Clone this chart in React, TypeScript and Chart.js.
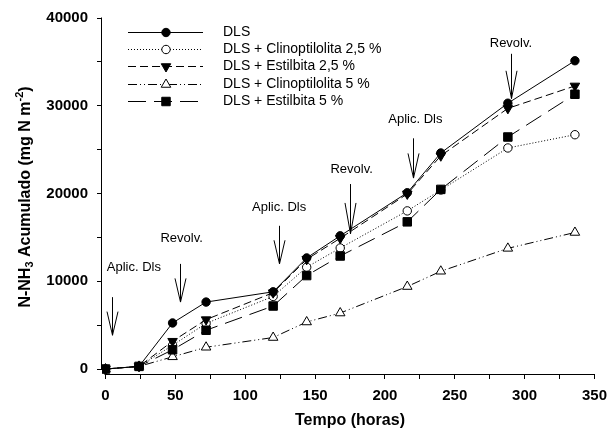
import React, { useEffect, useRef } from 'react';
import { Chart, registerables } from 'chart.js';

Chart.register(...registerables);

// ---- data ----
const hours = [0, 24, 48, 72, 120, 144, 168, 216, 240, 288, 336];

const seriesLabels = [
  'DLS',
  'DLS + Clinoptilolita 2,5 %',
  'DLS + Estilbita 2,5 %',
  'DLS + Clinoptilolita 5 %',
  'DLS + Estilbita 5 %',
];

const dls = [0, 300, 5250, 7630, 8800, 12660, 15180, 20090, 24620, 30290, 35130];
const clino25 = [0, 300, 2700, 5200, 8270, 11600, 13790, 18020, 20400, 25190, 26700];
const estil25 = [0, 300, 3170, 5630, 8700, 12500, 14900, 19950, 24300, 29700, 32260];
const clino5 = [0, 300, 1390, 2480, 3590, 5360, 6380, 9400, 11140, 13750, 15560];
const estil5 = [0, 300, 2190, 4420, 7180, 10650, 12880, 16770, 20470, 26440, 31310];

const seriesValues = [dls, clino25, estil25, clino5, estil5];

const xTickValues = [0, 25, 50, 75, 100, 125, 150, 175, 200, 225, 250, 275, 300, 325, 350];
const yTickValues = [0, 5000, 10000, 15000, 20000, 25000, 30000, 35000, 40000];
const xLabelEvery = 50;
const yLabelEvery = 10000;

// annotations in data units (hours, mg N m-2)
const annotationLabels = ['Aplic. Dls', 'Revolv.', 'Aplic. Dls', 'Revolv.', 'Aplic. Dls', 'Revolv.'];
const annotationTextX = [20.3, 54.5, 124.3, 176.2, 221.8, 290.2];
const annotationTextY = [11560, 14840, 18360, 22780, 28440, 37060];
const arrowX = [4.4, 53, 124.3, 174.8, 220.4, 290.2];
const arrowTop = [8190, 11980, 16320, 21080, 26290, 35920];
const arrowTip = [3850, 7630, 11980, 15410, 21760, 30820];

// ---- styles ----
const FONT = '"Liberation Sans", Arial, Helvetica, sans-serif';
const dashes: number[][] = [[], [1, 2], [8, 4], [9, 3, 1, 3, 1, 3], [18, 8]];
const pointStyles = ['circle', 'circle', 'triangle', 'triangle', 'rect'];
const pointRotations = [0, 0, 180, 0, 0];
const pointRadii = [4.2, 4.2, 5.5, 5.5, 6];
const pointFills = ['#000', '#fff', '#000', '#fff', '#000'];
const drawOrders = [1, 5, 2, 4, 3];

function drawMarker(ctx: CanvasRenderingContext2D, style: string, rot: number, r: number, x: number, y: number, fill: string) {
  ctx.save();
  ctx.setLineDash([]);
  ctx.beginPath();
  if (style === 'circle') {
    ctx.arc(x, y, r, 0, Math.PI * 2);
  } else if (style === 'rect') {
    const s = Math.SQRT1_2 * r;
    ctx.rect(x - s, y - s, 2 * s, 2 * s);
  } else {
    let rad = (rot * Math.PI) / 180;
    ctx.moveTo(x + Math.sin(rad) * r, y - Math.cos(rad) * r);
    rad += (2 * Math.PI) / 3;
    ctx.lineTo(x + Math.sin(rad) * r, y - Math.cos(rad) * r);
    rad += (2 * Math.PI) / 3;
    ctx.lineTo(x + Math.sin(rad) * r, y - Math.cos(rad) * r);
    ctx.closePath();
  }
  ctx.fillStyle = fill;
  ctx.fill();
  ctx.strokeStyle = '#000';
  ctx.lineWidth = 1;
  ctx.stroke();
  ctx.restore();
}

const customPlugin = {
  id: 'customDecor',
  afterDraw(chart: any) {
    const ctx: CanvasRenderingContext2D = chart.ctx;
    const xs = chart.scales.x;
    const ys = chart.scales.y;
    const area = chart.chartArea;
    ctx.save();
    ctx.strokeStyle = '#000';
    ctx.fillStyle = '#000';
    ctx.lineWidth = 1;
    ctx.setLineDash([]);

    // axis lines
    const axX = Math.round(area.left) - 0.5;
    ctx.beginPath();
    ctx.moveTo(axX, Math.round(ys.getPixelForValue(0)) + 0.5);
    ctx.lineTo(axX, Math.round(ys.getPixelForValue(40000)) - 0.5);
    ctx.stroke();
    const axY = Math.round(area.bottom) + 0.5;
    ctx.beginPath();
    ctx.moveTo(Math.round(xs.getPixelForValue(0)) - 0.5, axY);
    ctx.lineTo(Math.round(xs.getPixelForValue(350)) + 0.5, axY);
    ctx.stroke();

    // annotations
    ctx.font = `13px ${FONT}`;
    ctx.textAlign = 'center';
    ctx.textBaseline = 'middle';
    for (let i = 0; i < annotationLabels.length; i++) {
      ctx.fillText(annotationLabels[i], xs.getPixelForValue(annotationTextX[i]), ys.getPixelForValue(annotationTextY[i]));
      const ax = Math.round(xs.getPixelForValue(arrowX[i])) + 0.5;
      const top = ys.getPixelForValue(arrowTop[i]);
      const tip = ys.getPixelForValue(arrowTip[i]);
      const vStart = tip - (tip - top) * 0.62;
      ctx.beginPath();
      ctx.moveTo(ax, top);
      ctx.lineTo(ax, tip);
      ctx.moveTo(ax - 5.5, vStart);
      ctx.lineTo(ax, tip);
      ctx.lineTo(ax + 5.5, vStart);
      ctx.stroke();
    }

    // legend
    const legendRows = [31.7, 49, 66.2, 83.5, 100.7];
    ctx.font = `14px ${FONT}`;
    ctx.textAlign = 'left';
    for (let i = 0; i < seriesLabels.length; i++) {
      const y = Math.round(legendRows[i]) + 0.5;
      ctx.save();
      ctx.setLineDash(dashes[i]);
      ctx.beginPath();
      ctx.moveTo(128, y);
      ctx.lineTo(203, y);
      ctx.stroke();
      ctx.restore();
      drawMarker(ctx, pointStyles[i], pointRotations[i], pointRadii[i], 166, y, pointFills[i]);
      ctx.fillStyle = '#000';
      ctx.fillText(seriesLabels[i], 223, y);
    }

    // axis titles
    ctx.font = `bold 16px ${FONT}`;
    ctx.textAlign = 'center';
    ctx.fillText('Tempo (horas)', 350, 421);

    ctx.save();
    ctx.translate(26, 197);
    ctx.rotate(-Math.PI / 2);
    const big = `bold 16px ${FONT}`;
    const small = `bold 11px ${FONT}`;
    const parts = [
      { t: 'N-NH', f: big, dy: 0 },
      { t: '3', f: small, dy: 4 },
      { t: ' Acumulado (mg N m', f: big, dy: 0 },
      { t: '-2', f: small, dy: -6 },
      { t: ')', f: big, dy: 0 },
    ];
    let total = 0;
    for (const p of parts) {
      ctx.font = p.f;
      total += ctx.measureText(p.t).width;
    }
    let cx = -total / 2;
    ctx.textAlign = 'left';
    ctx.textBaseline = 'middle';
    for (const p of parts) {
      ctx.font = p.f;
      ctx.fillText(p.t, cx, p.dy);
      cx += ctx.measureText(p.t).width;
    }
    ctx.restore();

    ctx.restore();
  },
};

export default function App() {
  const ref = useRef<HTMLCanvasElement>(null);
  useEffect(() => {
    document.body.style.margin = '0';
    const canvas = ref.current!;
    const chart = new Chart(canvas, {
      type: 'line',
      data: {
        datasets: seriesLabels.map((label, i) => ({
          label,
          data: hours.map((h, j) => ({ x: h, y: seriesValues[i][j] })),
          borderColor: '#000',
          borderWidth: 1,
          borderDash: dashes[i],
          pointStyle: pointStyles[i] as any,
          rotation: pointRotations[i],
          pointRadius: pointRadii[i],
          pointBackgroundColor: pointFills[i],
          pointBorderColor: '#000',
          pointBorderWidth: 1,
          fill: false,
          tension: 0,
          order: drawOrders[i],
        })),
      },
      options: {
        responsive: false,
        animation: false,
        devicePixelRatio: 1,
        layout: { padding: { left: 0, top: 16, right: 18, bottom: 0 } },
        plugins: { legend: { display: false }, tooltip: { enabled: false } },
        scales: {
          x: {
            type: 'linear',
            min: -2.5,
            max: 350,
            afterBuildTicks: (scale: any) => {
              scale.ticks = xTickValues.map((v) => ({ value: v }));
            },
            afterFit: (scale: any) => {
              scale.height = 59;
            },
            ticks: {
              color: '#000',
              font: { family: FONT, size: 15, weight: 'bold' },
              padding: 8,
              maxRotation: 0,
              autoSkip: false,
              callback: (v: any) => (Number(v) % xLabelEvery === 0 ? String(v) : ''),
            },
            grid: { display: true, drawOnChartArea: false, drawTicks: true, tickLength: 5, color: '#000', lineWidth: 1 },
            border: { display: false },
          },
          y: {
            type: 'linear',
            min: -567,
            max: 40000,
            afterBuildTicks: (scale: any) => {
              scale.ticks = yTickValues.map((v) => ({ value: v }));
            },
            afterFit: (scale: any) => {
              scale.width = 102;
            },
            ticks: {
              color: '#000',
              font: { family: FONT, size: 15, weight: 'bold' },
              padding: 9,
              autoSkip: false,
              callback: (v: any) => (Number(v) % yLabelEvery === 0 ? String(v) : ''),
            },
            grid: { display: true, drawOnChartArea: false, drawTicks: true, tickLength: 5, color: '#000', lineWidth: 1 },
            border: { display: false },
          },
        },
      },
      plugins: [customPlugin],
    } as any);
    return () => chart.destroy();
  }, []);
  return (
    <div style={{ width: 615, height: 433, background: '#fff' }}>
      <canvas ref={ref} width={615} height={433} style={{ display: 'block', width: 615, height: 433 }} />
    </div>
  );
}
